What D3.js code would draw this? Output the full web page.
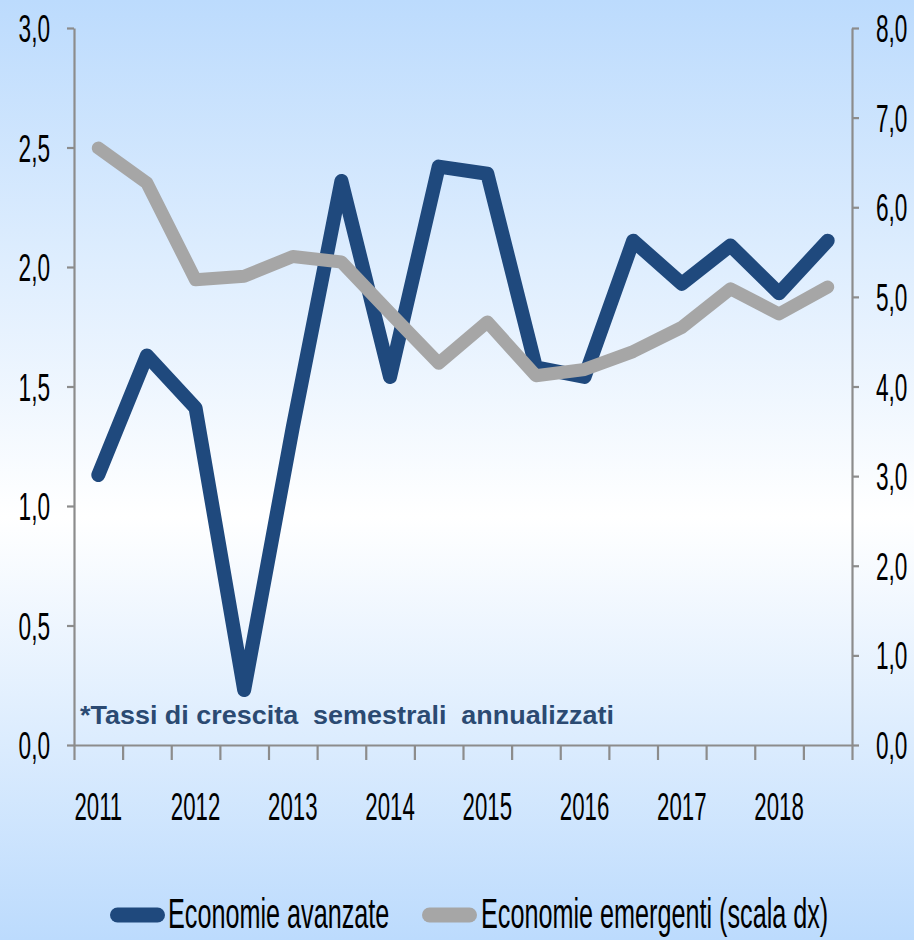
<!DOCTYPE html>
<html>
<head>
<meta charset="utf-8">
<script src="https://cdn.jsdelivr.net/npm/d3@7"></script>
<style>
  html, body { margin: 0; padding: 0; }
  body { width: 914px; height: 940px; overflow: hidden; }
  svg { display: block; }
</style>
</head>
<body>
<svg id="chart" width="914" height="940"></svg>
<script>
// ---- data ----
const semesters = ["2011-I","2011-II","2012-I","2012-II","2013-I","2013-II","2014-I","2014-II",
                   "2015-I","2015-II","2016-I","2016-II","2017-I","2017-II","2018-I","2018-II"];
const yearLabels = ["2011","","2012","","2013","","2014","","2015","","2016","","2017","","2018",""];
const avanzate  = [1.13, 1.63, 1.41, 0.23, 1.33, 2.36, 1.54, 2.42, 2.39, 1.58, 1.54, 2.11, 1.93, 2.09, 1.89, 2.11];
const emergenti = [6.66, 6.27, 5.19, 5.23, 5.45, 5.39, 4.82, 4.26, 4.72, 4.12, 4.19, 4.39, 4.66, 5.09, 4.81, 5.11];
const leftTicks  = [0, 0.5, 1.0, 1.5, 2.0, 2.5, 3.0];
const rightTicks = [0, 1, 2, 3, 4, 5, 6, 7, 8];
const seriesNames = ["Economie avanzate", "Economie emergenti (scala dx)"];
const note = "*Tassi di crescita  semestrali  annualizzati";

// ---- layout ----
const W = 914, H = 940;
const plot = { left: 74, right: 852, top: 28, bottom: 745 };
const blue = "#1f497d", gray = "#a6a6a6", axisCol = "#8c8c8c";
const fmt = d => d.toFixed(1).replace(".", ",");

const svg = d3.select("#chart");
const defs = svg.append("defs");
const grad = defs.append("linearGradient").attr("id", "bg")
  .attr("x1", 0).attr("y1", 0).attr("x2", 0).attr("y2", 1);
grad.append("stop").attr("offset", "0%").attr("stop-color", "#bcdbfd");
grad.append("stop").attr("offset", "55%").attr("stop-color", "#ffffff");
grad.append("stop").attr("offset", "100%").attr("stop-color", "#bcdbfd");
svg.append("rect").attr("width", W).attr("height", H).attr("fill", "url(#bg)");

const x = d3.scaleBand().domain(semesters).range([plot.left, plot.right]).padding(0);
const xEdge = d3.scaleLinear().domain([0, semesters.length]).range([plot.left, plot.right]);
const yL = d3.scaleLinear().domain([0, 3]).range([plot.bottom, plot.top]);
const yR = d3.scaleLinear().domain([0, 8]).range([plot.bottom, plot.top]);
const cx = d => x(d) + x.bandwidth() / 2;

// condensed text helper
function ctext(parent, str, tx, ty, size, anchor, sx, fill) {
  return parent.append("text")
    .attr("transform", `translate(${tx},${ty}) scale(${sx},1)`)
    .attr("text-anchor", anchor)
    .attr("font-family", "'Liberation Sans', Arial, sans-serif")
    .attr("font-size", size)
    .attr("fill", fill || "#000")
    .text(str);
}

// ---- axes ----
function styleAxis(g) {
  g.selectAll("path,line").attr("stroke", axisCol).attr("stroke-width", 2.2);
  g.selectAll("text").remove();
}
svg.append("g").attr("transform", `translate(${plot.left},0)`)
  .call(d3.axisLeft(yL).tickValues(leftTicks).tickSize(7).tickSizeOuter(0))
  .call(styleAxis);
svg.append("g").attr("transform", `translate(${plot.right},0)`)
  .call(d3.axisRight(yR).tickValues(rightTicks).tickSize(7).tickSizeOuter(0))
  .call(styleAxis);
svg.append("g").attr("transform", `translate(0,${plot.bottom})`)
  .call(d3.axisBottom(xEdge).tickValues(d3.range(semesters.length + 1)).tickSize(15).tickSizeOuter(0))
  .call(styleAxis);

const labels = svg.append("g");
leftTicks.forEach(t => ctext(labels, fmt(t), 50, yL(t) + 14, 39, "end", 0.58));
rightTicks.forEach(t => ctext(labels, fmt(t), 876, yR(t) + 14, 39, "start", 0.58));
semesters.forEach((s, i) => {
  if (yearLabels[i]) ctext(labels, yearLabels[i], cx(s), 820, 39, "middle", 0.57);
});

// ---- annotation ----
svg.append("text")
  .attr("x", 80).attr("y", 724)
  .attr("font-family", "'Liberation Sans', Arial, sans-serif")
  .attr("font-weight", "bold").attr("font-size", 25)
  .attr("fill", "#2b4a72")
  .attr("textLength", 534).attr("lengthAdjust", "spacingAndGlyphs")
  .style("white-space", "pre")
  .text(note);

// ---- lines ----
const lineL = d3.line().x((d, i) => cx(semesters[i])).y(d => yL(d));
const lineR = d3.line().x((d, i) => cx(semesters[i])).y(d => yR(d));
svg.append("path").datum(avanzate).attr("d", lineL)
  .attr("fill", "none").attr("stroke", blue).attr("stroke-width", 14)
  .attr("stroke-linejoin", "round").attr("stroke-linecap", "round");
svg.append("path").datum(emergenti).attr("d", lineR)
  .attr("fill", "none").attr("stroke", gray).attr("stroke-width", 13)
  .attr("stroke-linejoin", "round").attr("stroke-linecap", "round");

// ---- legend ----
const leg = svg.append("g");
const legItems = [
  { name: seriesNames[0], color: blue, x0: 110, x1: 165, tx: 168 },
  { name: seriesNames[1], color: gray, x0: 422, x1: 477, tx: 481 }
];
legItems.forEach(it => {
  leg.append("line").attr("x1", it.x0 + 7.5).attr("x2", it.x1 - 7.5)
    .attr("y1", 915).attr("y2", 915)
    .attr("stroke", it.color).attr("stroke-width", 15).attr("stroke-linecap", "round");
  ctext(leg, it.name, it.tx, 928, 42, "start", 0.6);
});
</script>
</body>
</html>
